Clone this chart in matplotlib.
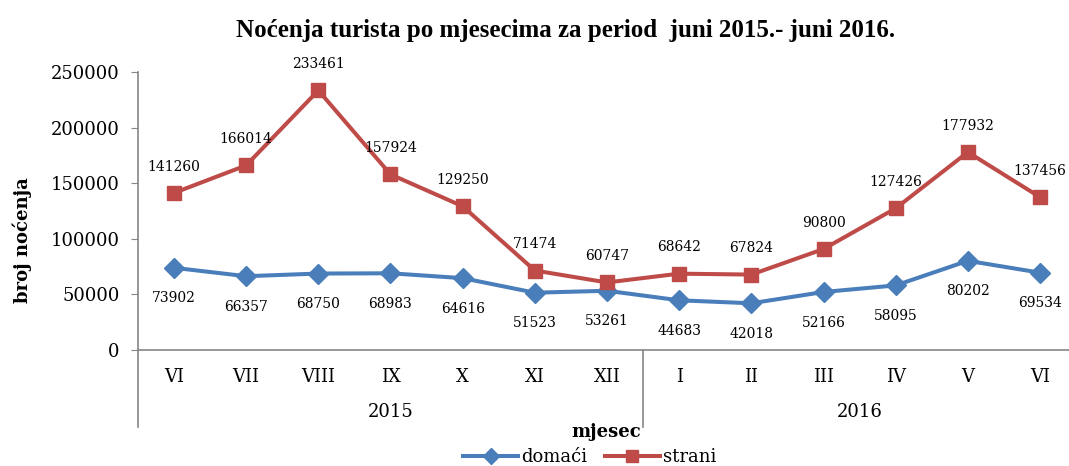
import matplotlib
matplotlib.use("Agg")
import matplotlib.pyplot as plt
from matplotlib.lines import Line2D

months = ["VI", "VII", "VIII", "IX", "X", "XI", "XII", "I", "II", "III", "IV", "V", "VI"]
years = ["2015", "2016"]
domaci = [73902, 66357, 68750, 68983, 64616, 51523, 53261, 44683, 42018, 52166, 58095, 80202, 69534]
strani = [141260, 166014, 233461, 157924, 129250, 71474, 60747, 68642, 67824, 90800, 127426, 177932, 137456]

W, H = 1069, 466
fig = plt.figure(figsize=(W / 100, H / 100), dpi=100)

# axes geometry in pixels
x0, step = 137.9, 72.17
ybot, ytop = 350, 72
ax = fig.add_axes([x0 / W, (H - ybot) / H, 13 * step / W, (ybot - ytop) / H])

blue = "#4A7EBB"
red = "#BE4B48"
serif = "DejaVu Serif"

xs = list(range(len(months)))
ax.plot(xs, domaci, color=blue, lw=2.9, marker="D", ms=10, label="domaći", zorder=3)
ax.plot(xs, strani, color=red, lw=2.9, marker="s", ms=10, label="strani", zorder=3)

ax.set_xlim(-0.5, len(months) - 0.5)
ax.set_ylim(0, 250000)
ax.set_yticks(range(0, 250001, 50000))
ax.set_yticklabels([str(v) for v in range(0, 250001, 50000)], family=serif, fontsize=13)
ax.tick_params(axis="y", length=5, color="#868686", pad=8)
ax.set_xticks([])
for s in ["top", "right"]:
    ax.spines[s].set_visible(False)
for s in ["left", "bottom"]:
    ax.spines[s].set_color("#868686")
    ax.spines[s].set_linewidth(1.2)

# data labels
for x, v in zip(xs, strani):
    ax.annotate(str(v), (x, v), xytext=(0, 19), textcoords="offset points",
                ha="center", va="center", fontsize=10, family=serif)
for x, v in zip(xs, domaci):
    ax.annotate(str(v), (x, v), xytext=(0, -22), textcoords="offset points",
                ha="center", va="center", fontsize=10, family=serif)

# month labels
tr = ax.get_xaxis_transform()
for x, m in zip(xs, months):
    ax.text(x, -27 / 278, m, transform=tr, ha="center", va="center", fontsize=13, family=serif)
# year labels
ax.text(3, -62 / 278, years[0], transform=tr, ha="center", va="center", fontsize=13, family=serif)
ax.text(9.5, -62 / 278, years[1], transform=tr, ha="center", va="center", fontsize=13, family=serif)
# group separators
for xb in [-0.5, 6.5]:
    ax.plot([xb, xb], [0, -77 / 278], transform=tr, color="#868686", lw=1.2, clip_on=False)

fig.text(566 / W, 1 - 30 / H, "Noćenja turista po mjesecima za period  juni 2015.- juni 2016.",
         ha="center", va="center", fontsize=18, fontweight="bold", family="Liberation Serif")
fig.text(22 / W, 1 - 240 / H, "broj noćenja", rotation=90, ha="center", va="center",
         fontsize=13, fontweight="bold", family=serif)
fig.text(606 / W, 1 - 432 / H, "mjesec", ha="center", va="center",
         fontsize=13, fontweight="bold", family=serif)

handles = [Line2D([], [], color=blue, lw=2.9, marker="D", ms=8),
           Line2D([], [], color=red, lw=2.9, marker="s", ms=8)]
fig.legend(handles, ["domaći", "strani"], loc="center", bbox_to_anchor=(590 / W, 1 - 457 / H),
           ncol=2, frameon=False, prop={"family": serif, "size": 13},
           handlelength=3.0, handletextpad=0.2, columnspacing=1.0, borderpad=0, borderaxespad=0)

fig.savefig("out.png", dpi=100)
